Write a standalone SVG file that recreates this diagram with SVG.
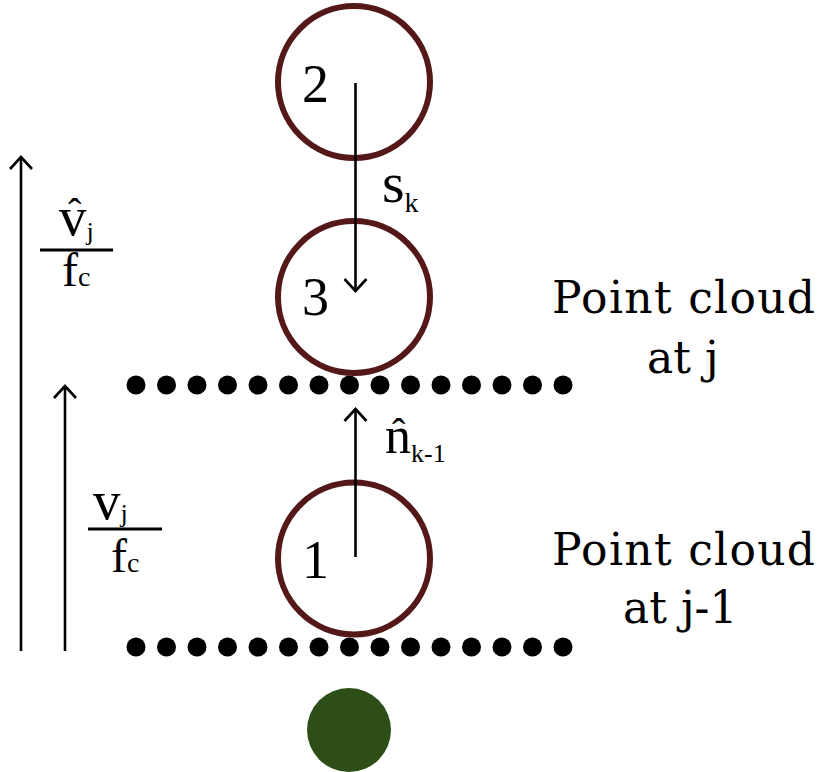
<svg xmlns="http://www.w3.org/2000/svg" width="820" height="772" viewBox="0 0 820 772">
<style>
.t{font-family:"Liberation Serif","DejaVu Serif",serif;fill:#000}
.d{font-family:"DejaVu Serif","Liberation Serif",serif;fill:#000;font-size:44px}
.ring{fill:none;stroke:#541818;stroke-width:6}
.dot{fill:#000}
.arr{stroke:#000;stroke-width:2.6;fill:none;marker-end:url(#ah)}
.bar{stroke:#000;stroke-width:3}
</style>
<defs>
<marker id="ah" viewBox="-15 -15 30 30" markerWidth="30" markerHeight="30" refX="0" refY="0" orient="auto" markerUnits="userSpaceOnUse">
<path d="M-12,-11 L0,0 L-12,11" fill="none" stroke="#000" stroke-width="2.6"/>
</marker>
</defs>
<rect width="820" height="772" fill="#fff"/>
<g id="cloud-j">
<circle class="dot" cx="136" cy="385" r="9.5"/><circle class="dot" cx="166.5" cy="385" r="9.5"/><circle class="dot" cx="197" cy="385" r="9.5"/><circle class="dot" cx="227.5" cy="385" r="9.5"/><circle class="dot" cx="258" cy="385" r="9.5"/><circle class="dot" cx="288.5" cy="385" r="9.5"/><circle class="dot" cx="319" cy="385" r="9.5"/><circle class="dot" cx="349.5" cy="385" r="9.5"/><circle class="dot" cx="380" cy="385" r="9.5"/><circle class="dot" cx="410.5" cy="385" r="9.5"/><circle class="dot" cx="441" cy="385" r="9.5"/><circle class="dot" cx="471.5" cy="385" r="9.5"/><circle class="dot" cx="502" cy="385" r="9.5"/><circle class="dot" cx="532.5" cy="385" r="9.5"/><circle class="dot" cx="563" cy="385" r="9.5"/>
</g>
<g id="cloud-j-1">
<circle class="dot" cx="136" cy="647" r="9.5"/><circle class="dot" cx="166.5" cy="647" r="9.5"/><circle class="dot" cx="197" cy="647" r="9.5"/><circle class="dot" cx="227.5" cy="647" r="9.5"/><circle class="dot" cx="258" cy="647" r="9.5"/><circle class="dot" cx="288.5" cy="647" r="9.5"/><circle class="dot" cx="319" cy="647" r="9.5"/><circle class="dot" cx="349.5" cy="647" r="9.5"/><circle class="dot" cx="380" cy="647" r="9.5"/><circle class="dot" cx="410.5" cy="647" r="9.5"/><circle class="dot" cx="441" cy="647" r="9.5"/><circle class="dot" cx="471.5" cy="647" r="9.5"/><circle class="dot" cx="502" cy="647" r="9.5"/><circle class="dot" cx="532.5" cy="647" r="9.5"/><circle class="dot" cx="563" cy="647" r="9.5"/>
</g>
<g id="node2"><circle class="ring" cx="354" cy="82" r="76"/><text class="t" x="302" y="102" font-size="54">2</text></g>
<g id="node3"><circle class="ring" cx="354" cy="297" r="76"/><text class="t" x="302" y="315" font-size="54">3</text></g>
<g id="node1"><circle class="ring" cx="354" cy="558.5" r="76"/><text class="t" x="302" y="578" font-size="54">1</text></g>
<g id="sensor"><circle cx="349" cy="730" r="42" fill="#2d4f17"/></g>
<g id="connectors">
<line class="arr" x1="355.5" y1="83" x2="355.5" y2="291"/>
<line class="arr" x1="355.5" y1="557" x2="355.5" y2="409"/>
<line class="arr" x1="21" y1="651" x2="21" y2="157"/>
<line class="arr" x1="65" y1="651" x2="65" y2="386"/>
</g>
<g id="labels">
<text class="t" x="382" y="202" font-size="58">s<tspan font-size="28" dy="10">k</tspan></text>
<text class="t" x="385" y="453" font-size="52">n<tspan font-size="26" dy="9">k-1</tspan></text>
<text class="t" x="392" y="446" font-size="40">ˆ</text>
<text class="t" x="59" y="235" font-size="55">v<tspan font-size="26" dy="5">j</tspan></text>
<text class="t" x="68" y="226" font-size="40">ˆ</text>
<line class="bar" x1="40" y1="250" x2="113" y2="250"/>
<text class="t" x="62" y="286" font-size="48">f<tspan font-size="28">c</tspan></text>
<text class="t" x="93" y="519" font-size="55">v<tspan font-size="26" dy="3">j</tspan></text>
<line class="bar" x1="88" y1="529" x2="162" y2="529"/>
<text class="t" x="111" y="572" font-size="48">f<tspan font-size="28">c</tspan></text>
<text class="d" x="552" y="313" textLength="263" lengthAdjust="spacing">Point cloud</text>
<text class="d" x="647" y="373">at j</text>
<text class="d" x="552" y="565" textLength="263" lengthAdjust="spacing">Point cloud</text>
<text class="d" x="623" y="623">at j-1</text>
</g>
</svg>
